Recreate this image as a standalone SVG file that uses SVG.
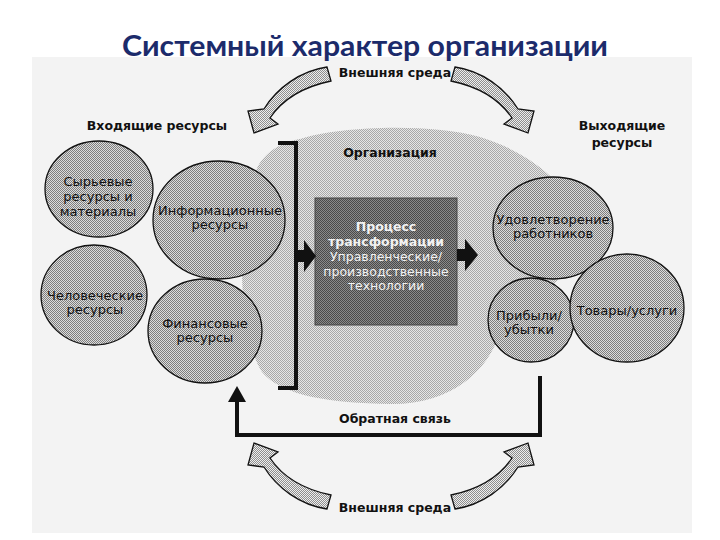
<svg xmlns="http://www.w3.org/2000/svg" width="720" height="540" viewBox="0 0 720 540">
<defs>
<pattern id="pBlob" width="2" height="2" patternUnits="userSpaceOnUse"><rect width="2" height="2" fill="#e6e6e6"/><rect width="1" height="1" fill="#a8a8a8"/><rect x="1" y="1" width="1" height="1" fill="#a8a8a8"/></pattern>
<pattern id="pCirc" width="2" height="2" patternUnits="userSpaceOnUse"><rect width="2" height="2" fill="#dcdcdc"/><rect width="1" height="1" fill="#7e7e7e"/><rect x="1" y="1" width="1" height="1" fill="#7e7e7e"/></pattern>
<pattern id="pBox" width="2" height="2" patternUnits="userSpaceOnUse"><rect width="2" height="2" fill="#8a8a8a"/><rect width="1" height="1" fill="#4a4a4a"/><rect x="1" y="1" width="1" height="1" fill="#4a4a4a"/></pattern>
<pattern id="pArr" width="2" height="2" patternUnits="userSpaceOnUse"><rect width="2" height="2" fill="#eeeeee"/><rect width="1" height="1" fill="#8e8e8e"/><rect x="1" y="1" width="1" height="1" fill="#8e8e8e"/></pattern>
<path id="curveArrow" d="M 327 67 C 300 71, 277 88, 264 109 L 248 111 L 254 133 L 278 124 L 270 118 C 282 100, 302 87, 331 81 Z"/>
<style>
.lbl{font-family:"DejaVu Sans","Liberation Sans",sans-serif;font-weight:bold;font-size:12.5px;fill:#111;text-anchor:middle}
.ct{font-family:"DejaVu Sans","Liberation Sans",sans-serif;font-size:13px;fill:#111;text-anchor:middle}
.bt{font-family:"DejaVu Sans","Liberation Sans",sans-serif;font-size:12.5px;fill:#f2f2f2;text-anchor:middle}
.circ{fill:url(#pCirc);stroke:#111;stroke-width:1.3}
.carr{fill:url(#pArr);stroke:#111;stroke-width:1.3;stroke-linejoin:miter}
.line{fill:none;stroke:#111;stroke-width:4}
</style>
</defs>
<rect width="720" height="540" fill="#ffffff"/>
<rect x="32" y="57" width="660" height="476" fill="#f3f3f3"/>
<text x="365" y="56" font-family="Lato,'Open Sans','Liberation Sans',sans-serif" font-weight="bold" font-size="28" fill="#1c2b6b" text-anchor="middle" textLength="486" lengthAdjust="spacingAndGlyphs">Системный характер организации</text>

<g id="organization">
<path d="M 300 139 C 340 126, 430 123, 480 137 C 530 152, 592 195, 578 250 C 566 292, 512 300, 500 332 C 488 372, 450 405, 390 404 C 330 403, 282 396, 262 372 C 236 332, 236 212, 258 166 C 268 149, 284 142, 300 139 Z" fill="url(#pBlob)"/>
<text class="lbl" x="390" y="157">Организация</text>
</g>

<g id="env-top"><text class="lbl" x="395" y="77">Внешняя среда</text></g>
<g id="env-bottom"><text class="lbl" x="395" y="512">Внешняя среда</text></g>
<g id="inputs-label"><text class="lbl" x="157" y="130">Входящие ресурсы</text></g>
<g id="outputs-label"><text class="lbl" x="622" y="130">Выходящие</text><text class="lbl" x="622" y="147">ресурсы</text></g>

<g id="raw">
<ellipse class="circ" cx="99" cy="189" rx="54" ry="48"/>
<text class="ct" x="98" y="186">Сырьевые</text><text class="ct" x="98" y="201">ресурсы и</text><text class="ct" x="98" y="216">материалы</text>
</g>
<g id="info">
<ellipse class="circ" cx="219" cy="220" rx="66" ry="59"/>
<text class="ct" x="220" y="215">Информационные</text><text class="ct" x="220" y="229">ресурсы</text>
</g>
<g id="human">
<ellipse class="circ" cx="94" cy="295" rx="53" ry="50"/>
<text class="ct" x="95" y="300">Человеческие</text><text class="ct" x="95" y="314">ресурсы</text>
</g>
<g id="finance">
<ellipse class="circ" cx="205" cy="331" rx="57" ry="52"/>
<text class="ct" x="205" y="328">Финансовые</text><text class="ct" x="205" y="342">ресурсы</text>
</g>

<g id="process">
<rect x="315" y="198" width="142" height="127" fill="url(#pBox)" stroke="#444" stroke-width="1"/>
<text class="bt" x="386" y="231" font-weight="bold">Процесс</text>
<text class="bt" x="386" y="246" font-weight="bold">трансформации</text>
<text class="bt" x="386" y="261">Управленческие/</text>
<text class="bt" x="386" y="276">производственные</text>
<text class="bt" x="386" y="290">технологии</text>
</g>

<g id="satisfaction">
<ellipse class="circ" cx="553" cy="228" rx="60" ry="51"/>
<text class="ct" x="553" y="224">Удовлетворение</text><text class="ct" x="553" y="238">работников</text>
</g>
<g id="profit">
<ellipse class="circ" cx="531" cy="320" rx="43" ry="42"/>
<text class="ct" x="529" y="320">Прибыли/</text><text class="ct" x="529" y="334">убытки</text>
</g>
<g id="goods">
<ellipse class="circ" cx="627" cy="308" rx="57" ry="54"/>
<text class="ct" x="627" y="315">Товары/услуги</text>
</g>

<g id="feedback-label"><text class="lbl" x="395" y="423">Обратная связь</text></g>

<g id="connectors">
<path class="line" d="M 278 143 H 296 V 388 H 278"/>
<path d="M 297 250 H 304 V 240 L 316 256 L 304 272 V 262 H 297 Z" fill="#111"/>
<path d="M 457 249 H 465 V 239 L 478 255 L 465 271 V 261 H 457 Z" fill="#111"/>
<path class="line" d="M 540 376 V 435 H 237 V 398"/>
<path d="M 228 402 L 237 386 L 246 402 Z" fill="#111"/>
<use href="#curveArrow" class="carr"/>
<use href="#curveArrow" class="carr" transform="translate(782,0) scale(-1,1)"/>
<use href="#curveArrow" class="carr" transform="translate(0,576) scale(1,-1)"/>
<use href="#curveArrow" class="carr" transform="translate(782,576) scale(-1,-1)"/>
</g>
</svg>
